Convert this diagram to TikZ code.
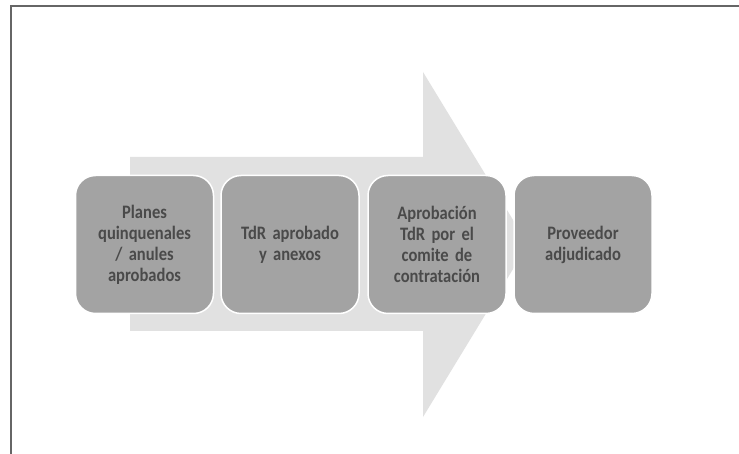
\documentclass[tikz,border=0pt]{standalone}
\usepackage{fontspec}
\setmainfont{Carlito}[FakeStretch=0.87]
\usetikzlibrary{shapes}

\definecolor{arrowgray}{HTML}{E1E1E1}
\definecolor{boxgray}{HTML}{A3A3A3}
\definecolor{textgray}{HTML}{4A4A4A}
\definecolor{framegray}{HTML}{666666}

\tikzset{
    stepbox/.style={draw=white, line width=1.5pt, fill=boxgray, rounded corners=20pt,
        minimum width=138pt, minimum height=138pt, text width=130pt, align=center,
        text=textgray, font=\bfseries\fontsize{19}{21}\selectfont}
}

\begin{document}
\begin{tikzpicture}[x=1pt, y=-1pt]
        \useasboundingbox (0,0) rectangle (739,454);
        \fill[white] (0,0) rectangle (739,454);
        % frame
        \draw[framegray, line width=2pt] (10.5,454) -- (10.5,6.5) -- (739,6.5);
        
        % big arrow
        \fill[arrowgray] (130,157) -- (423,157) -- (423,72) -- (528,244.5)
            -- (423,417) -- (423,331) -- (130,331) -- cycle;
        
        \node[stepbox] (planes) at (144.5,244.5) {Planes\\quinquenales\\/ anules\\aprobados};
        \node[stepbox] (tdr) at (290,244.5) {TdR aprobado\\y anexos};
        \node[stepbox] (aprob) at (437,244.5) {Aprobación\\TdR por el\\comite de\\contratación};
        \node[stepbox] (prov) at (583,244.5) {Proveedor\\adjudicado};
        \end{tikzpicture}
\end{document}
